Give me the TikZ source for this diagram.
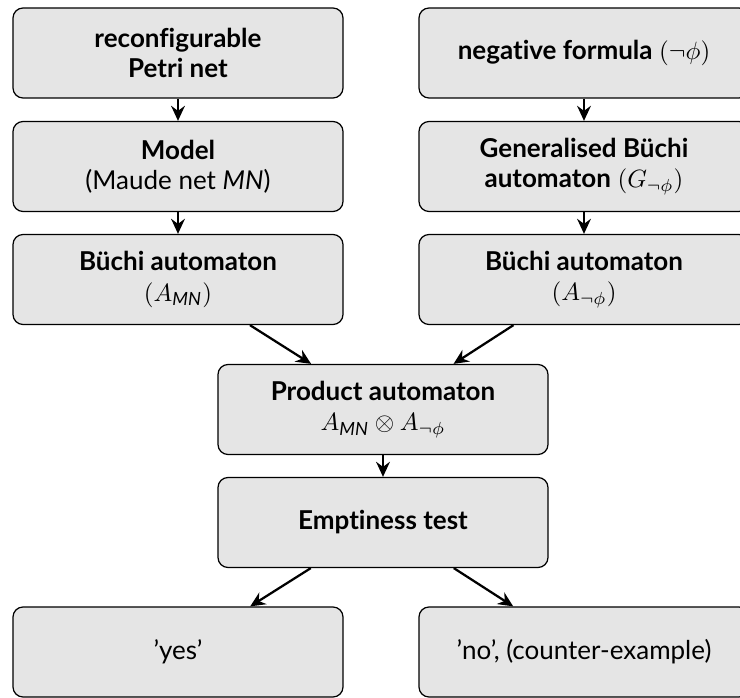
\documentclass[tikz,border=0pt]{standalone}
\usepackage{amsmath}
\usepackage{fontspec}
\setmainfont{Lato}[Ligatures={TeX,NoCommon}]
\usetikzlibrary{arrows.meta}
\tikzset{
  stage/.style={draw=black, line width=0.5pt, fill=black!10, rounded corners=4pt,
    minimum width=132pt, minimum height=36pt, align=center, inner sep=2pt,
    font=\fontsize{10.4}{12.2}\selectfont},
  flow/.style={-{Stealth[length=6pt,width=5.5pt,inset=2pt]}, line width=0.9pt}
}
\begin{document}
\begin{tikzpicture}[x=0.4pt, y=-0.4pt]
  \useasboundingbox (0,0) rectangle (740,698);
  % left branch: the net
  \node[stage] (net)   at (178,53)    {\textbf{reconfigurable}\\\textbf{Petri net}};
  \node[stage] (model) at (178,166.5) {\textbf{Model}\\(Maude net \textit{MN})};
  \node[stage] (bA)    at (178,279.5) {\textbf{Büchi automaton}\\$(A_{\textit{MN}})$};
  % right branch: the formula
  \node[stage] (neg)   at (584,53)    {\textbf{negative formula} $(\neg\phi)$};
  \node[stage] (gen)   at (584,166.5) {\textbf{Generalised Büchi}\\\textbf{automaton} $(G_{\neg\phi})$};
  \node[stage] (bB)    at (584,279.5) {\textbf{Büchi automaton}\\$(A_{\neg\phi})$};
  % joint part
  \node[stage] (prod)  at (383,409.5) {\textbf{Product automaton}\\$A_{\textit{MN}}\otimes A_{\neg\phi}$};
  \node[stage] (empty) at (383,522.5) {\textbf{Emptiness test}};
  \node[stage] (yes)   at (178,652)   {'yes'};
  \node[stage] (no)    at (584,652)   {'no', (counter-example)};
  % connectors
  \draw[flow] (net) -- (model);
  \draw[flow] (model) -- (bA);
  \draw[flow] (neg) -- (gen);
  \draw[flow] (gen) -- (bB);
  \draw[flow] (bA) -- (prod);
  \draw[flow] (bB) -- (prod);
  \draw[flow] (prod) -- (empty);
  \draw[flow] (empty) -- (yes);
  \draw[flow] (empty) -- (no);
\end{tikzpicture}
\end{document}
